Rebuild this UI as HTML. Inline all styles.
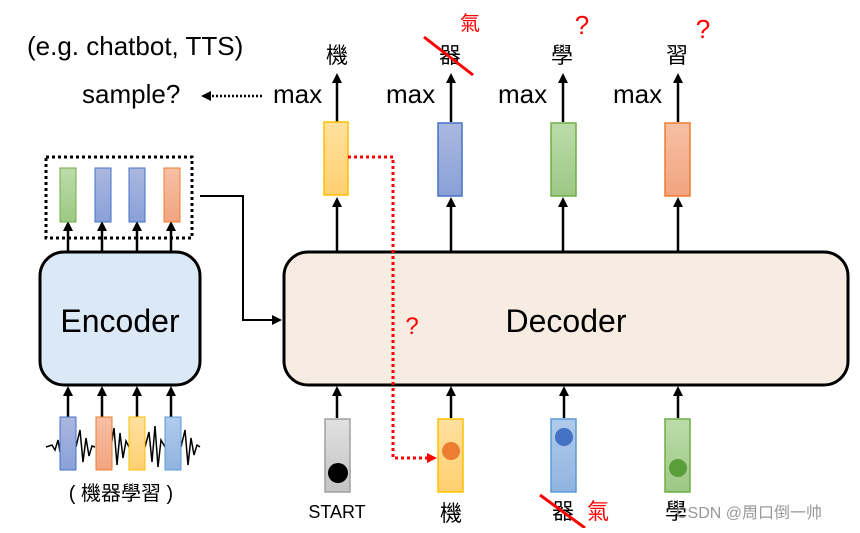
<!DOCTYPE html>
<html><head><meta charset="utf-8"><style>
body{margin:0;background:#fff;}
svg text{font-family:"Liberation Sans","Noto Sans CJK TC",sans-serif;}
</style></head><body>
<svg width="860" height="528" viewBox="0 0 860 528" xmlns="http://www.w3.org/2000/svg">
<defs>
<marker id="ah" markerWidth="10" markerHeight="10" refX="7" refY="5" orient="auto" markerUnits="userSpaceOnUse"><path d="M0,0 L10,5 L0,10 z" fill="#000"/></marker>
<marker id="ahr" markerWidth="10" markerHeight="10" refX="7" refY="5" orient="auto" markerUnits="userSpaceOnUse"><path d="M0,0 L10,5 L0,10 z" fill="#f00"/></marker>
<linearGradient id="gy" x1="0" y1="0" x2="0" y2="1"><stop offset="0" stop-color="#ffe0a0"/><stop offset="1" stop-color="#ffd070"/></linearGradient>
<linearGradient id="gb" x1="0" y1="0" x2="0" y2="1"><stop offset="0" stop-color="#aab8e0"/><stop offset="1" stop-color="#8aa0d8"/></linearGradient>
<linearGradient id="gg" x1="0" y1="0" x2="0" y2="1"><stop offset="0" stop-color="#bcdcaa"/><stop offset="1" stop-color="#9cc884"/></linearGradient>
<linearGradient id="go" x1="0" y1="0" x2="0" y2="1"><stop offset="0" stop-color="#f6c0a4"/><stop offset="1" stop-color="#f2a480"/></linearGradient>
<linearGradient id="glb" x1="0" y1="0" x2="0" y2="1"><stop offset="0" stop-color="#b0cbec"/><stop offset="1" stop-color="#90b4e0"/></linearGradient>
<linearGradient id="gs" x1="0" y1="0" x2="0" y2="1"><stop offset="0" stop-color="#e0e0e0"/><stop offset="1" stop-color="#c4c4c4"/></linearGradient>
</defs>

<text x="27" y="55" font-size="26">(e.g. chatbot, TTS)</text>
<text x="82" y="103" font-size="26">sample?</text>
<line x1="262" y1="96" x2="204" y2="96" stroke="#000" stroke-width="2.5" stroke-dasharray="2,2" marker-end="url(#ah)"/>

<g font-size="26">
<text x="273" y="103">max</text><text x="386" y="103">max</text><text x="498" y="103">max</text><text x="613" y="103">max</text>
</g>
<g font-size="22" text-anchor="middle">
<text x="337" y="63">機</text><text x="450" y="63">器</text><text x="562" y="63">學</text><text x="677" y="63">習</text>
</g>
<text x="470" y="30" font-size="20" fill="#f00" text-anchor="middle">氣</text>
<text x="582" y="34" font-size="26" fill="#f00" text-anchor="middle">?</text>
<text x="703" y="38" font-size="26" fill="#f00" text-anchor="middle">?</text>
<line x1="424" y1="37" x2="473" y2="75" stroke="#f00" stroke-width="3"/>

<g stroke="#000" stroke-width="2.5" marker-end="url(#ah)">
<line x1="337" y1="122" x2="337" y2="76"/><line x1="451" y1="122" x2="451" y2="76"/><line x1="563" y1="122" x2="563" y2="76"/><line x1="678" y1="122" x2="678" y2="76"/>
<line x1="337" y1="252" x2="337" y2="200"/><line x1="451" y1="252" x2="451" y2="200"/><line x1="563" y1="252" x2="563" y2="200"/><line x1="678" y1="252" x2="678" y2="200"/>
<line x1="337" y1="418" x2="337" y2="389"/><line x1="451" y1="418" x2="451" y2="389"/><line x1="564" y1="418" x2="564" y2="389"/><line x1="678" y1="418" x2="678" y2="389"/>
<line x1="68" y1="418" x2="68" y2="389"/><line x1="102" y1="418" x2="102" y2="389"/><line x1="137" y1="418" x2="137" y2="389"/><line x1="171" y1="418" x2="171" y2="389"/>
<line x1="68" y1="252" x2="68" y2="224"/><line x1="102" y1="252" x2="102" y2="224"/><line x1="137" y1="252" x2="137" y2="224"/><line x1="171" y1="252" x2="171" y2="224"/>
</g>

<rect x="324" y="122" width="24" height="73" fill="url(#gy)" stroke="#ffc000" stroke-width="1.5"/>
<rect x="438" y="123" width="24" height="73" fill="url(#gb)" stroke="#4472c4" stroke-width="1.5"/>
<rect x="551" y="123" width="25" height="73" fill="url(#gg)" stroke="#70ad47" stroke-width="1.5"/>
<rect x="665" y="123" width="25" height="73" fill="url(#go)" stroke="#ed7d31" stroke-width="1.5"/>

<rect x="46" y="157" width="146" height="81" fill="none" stroke="#000" stroke-width="3" stroke-dasharray="3,3"/>
<rect x="60" y="168" width="16" height="54" fill="url(#gg)" stroke="#70ad47"/>
<rect x="95" y="168" width="16" height="54" fill="url(#gb)" stroke="#4472c4"/>
<rect x="129" y="168" width="16" height="54" fill="url(#gb)" stroke="#4472c4"/>
<rect x="164" y="168" width="16" height="54" fill="url(#go)" stroke="#ed7d31"/>

<polyline points="200,196 243,196 243,320 279,320" fill="none" stroke="#000" stroke-width="2" marker-end="url(#ah)"/>

<rect x="40" y="252" width="160" height="133" rx="24" fill="#dbe8f6" stroke="#000" stroke-width="3"/>
<text x="120" y="332" font-size="32" text-anchor="middle">Encoder</text>
<rect x="284" y="252" width="564" height="133" rx="24" fill="#f7ece2" stroke="#000" stroke-width="3"/>
<text x="566" y="332" font-size="32" text-anchor="middle">Decoder</text>
<text x="412" y="334" font-size="24" fill="#f00" text-anchor="middle">?</text>

<polyline points="348,157 393,157 393,458 434,458" fill="none" stroke="#f00" stroke-width="3" stroke-dasharray="3,3" marker-end="url(#ahr)"/>

<rect x="325" y="419" width="25" height="73" fill="url(#gs)" stroke="#a0a0a0" stroke-width="1.5"/>
<circle cx="338" cy="473" r="10" fill="#000"/>
<rect x="438" y="419" width="25" height="73" fill="url(#gy)" stroke="#ffc000" stroke-width="1.5"/>
<circle cx="451" cy="451" r="9" fill="#ed7d31"/>
<rect x="551" y="419" width="25" height="73" fill="url(#glb)" stroke="#5b9bd5" stroke-width="1.5"/>
<circle cx="564" cy="437" r="9" fill="#4472c4"/>
<rect x="665" y="419" width="25" height="73" fill="url(#gg)" stroke="#70ad47" stroke-width="1.5"/>
<circle cx="678" cy="468" r="9" fill="#5a9e3a"/>

<text x="337" y="518" font-size="18" text-anchor="middle">START</text>
<g font-size="22" text-anchor="middle">
<text x="451" y="521">機</text><text x="563" y="519">器</text><text x="676" y="519">學</text>
</g>
<text x="598" y="519" font-size="22" fill="#f00" text-anchor="middle">氣</text>
<line x1="540" y1="495" x2="585" y2="528" stroke="#f00" stroke-width="3"/>
<text x="676" y="518" font-size="16" fill="#999">CSDN @周口倒一帅</text>

<path d="M46,447 L52,445 L55,450 L58,440 L60,452 M76,447 L80,430 L83,462 L86,438 L89,456 L92,446 L95,447 M111,447 L114,428 L117,465 L120,433 L123,458 L126,441 L129,447 M145,447 L149,432 L152,462 L155,426 L158,467 L161,440 L165,447 M181,447 L185,430 L188,465 L191,438 L194,455 L197,445 L200,447" fill="none" stroke="#000" stroke-width="1.5"/>
<rect x="60" y="417" width="16" height="53" fill="url(#gb)" stroke="#4472c4"/>
<rect x="96" y="417" width="16" height="53" fill="url(#go)" stroke="#ed7d31"/>
<rect x="129" y="417" width="16" height="53" fill="url(#gy)" stroke="#ffc000"/>
<rect x="165" y="417" width="16" height="53" fill="url(#glb)" stroke="#5b9bd5"/>
<text x="121" y="500" font-size="20" text-anchor="middle">( 機器學習 )</text>
</svg>
</body></html>
